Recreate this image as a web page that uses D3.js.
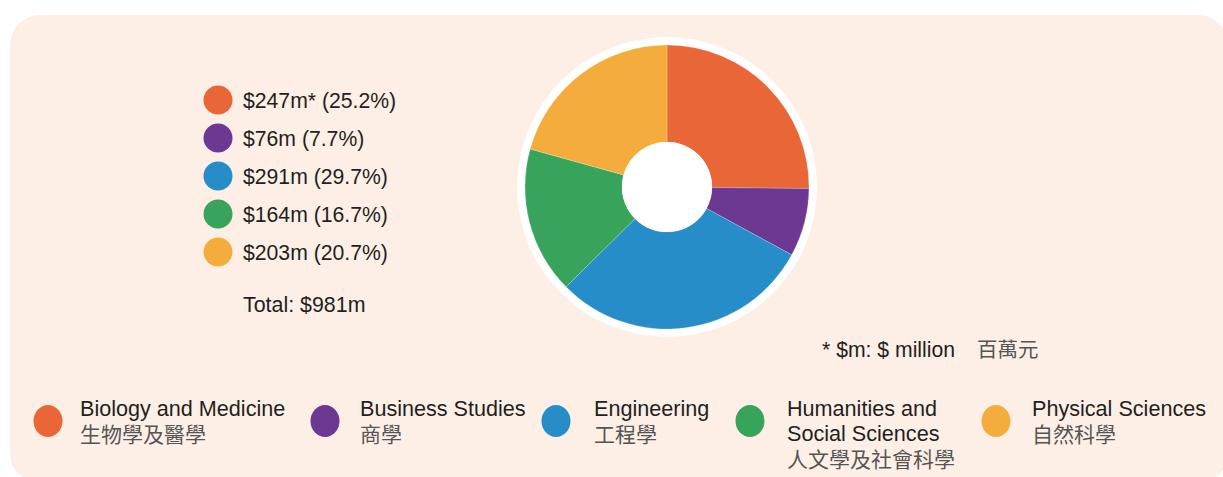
<!DOCTYPE html>
<html>
<head>
<meta charset="utf-8">
<script src="https://cdn.jsdelivr.net/npm/d3@7"></script>
<style>
  html, body { margin: 0; padding: 0; background: #ffffff; }
  svg { display: block; }
  .en { font-family: "Liberation Sans", Arial, Helvetica, sans-serif; fill: #231f20; }
  .zh { font-family: "Noto Sans CJK TC", "Noto Sans CJK SC", sans-serif; fill: #555555; }
</style>
</head>
<body>
<svg id="chart" width="1223" height="477"></svg>
<script>
// ---- data ----
const categories = ["Biology and Medicine", "Business Studies", "Engineering", "Humanities and Social Sciences", "Physical Sciences"];
const categoriesEnLines = [["Biology and Medicine"], ["Business Studies"], ["Engineering"], ["Humanities and", "Social Sciences"], ["Physical Sciences"]];
const categoriesZh = ["生物學及醫學", "商學", "工程學", "人文學及社會科學", "自然科學"];
const values = [247, 76, 291, 164, 203];           // $ million
const percents = [25.2, 7.7, 29.7, 16.7, 20.7];
const colors = ["#e96737", "#6c3891", "#268dc9", "#38a35a", "#f4ad3d"];
const totalLabel = "Total: $981m";
const footnote = "* $m: $ million";
const footnoteZh = "百萬元";

const svg = d3.select("#chart");

// panel background
svg.append("rect")
  .attr("x", 10).attr("y", 15)
  .attr("width", 1218).attr("height", 468)
  .attr("rx", 30).attr("ry", 30)
  .attr("fill", "#fdefe6");

// ---- donut ----
const cx = 667, cy = 187, rOuter = 142, rInner = 45, rRing = 150;
const g = svg.append("g").attr("transform", `translate(${cx},${cy})`);
g.append("circle").attr("r", rRing).attr("fill", "#ffffff");

const pie = d3.pie().sort(null).value(d => d.value);
const arc = d3.arc().innerRadius(rInner).outerRadius(rOuter);
const data = categories.map((c, i) => ({ cat: c, value: values[i], color: colors[i] }));

g.selectAll("path.slice")
  .data(pie(data))
  .join("path")
  .attr("class", "slice")
  .attr("d", arc)
  .attr("fill", d => d.data.color)
  .attr("stroke", "rgba(255,255,255,0.35)")
  .attr("stroke-width", 0.6);

g.append("circle").attr("r", rInner).attr("fill", "#ffffff");

// ---- value legend (top-left) ----
const yRow = d3.scalePoint().domain(d3.range(values.length)).range([100, 252]);
const valLeg = svg.append("g");
values.forEach((v, i) => {
  const y = yRow(i);
  valLeg.append("circle").attr("cx", 218).attr("cy", y).attr("r", 14.5).attr("fill", colors[i]);
  valLeg.append("text").attr("class", "en")
    .attr("x", 243).attr("y", y + 7.5)
    .attr("font-size", 21.2)
    .text(`$${v}m${i === 0 ? "*" : ""} (${percents[i].toFixed(1)}%)`);
});
svg.append("text").attr("class", "en")
  .attr("x", 243).attr("y", 312).attr("font-size", 21.4)
  .text(totalLabel);

// footnote
svg.append("text").attr("class", "en")
  .attr("x", 822).attr("y", 357).attr("font-size", 21.2)
  .text(footnote);
svg.append("text").attr("class", "zh")
  .attr("x", 977).attr("y", 357).attr("font-size", 20.5)
  .text(footnoteZh);

// ---- category legend (bottom) ----
const legX = [48, 325, 556, 750, 996];
const txtX = [80, 360, 594, 787, 1032];
const bottom = svg.append("g");
categories.forEach((c, i) => {
  bottom.append("ellipse")
    .attr("cx", legX[i]).attr("cy", 421)
    .attr("rx", 14.5).attr("ry", 16)
    .attr("fill", colors[i]);
  const lines = categoriesEnLines[i];
  lines.forEach((ln, j) => {
    bottom.append("text").attr("class", "en")
      .attr("x", txtX[i]).attr("y", 416 + j * 25)
      .attr("font-size", 21.6)
      .text(ln);
  });
  bottom.append("text").attr("class", "zh")
    .attr("x", txtX[i]).attr("y", 416 + lines.length * 25 + 1)
    .attr("font-size", 21)
    .text(categoriesZh[i]);
});
</script>
</body>
</html>
